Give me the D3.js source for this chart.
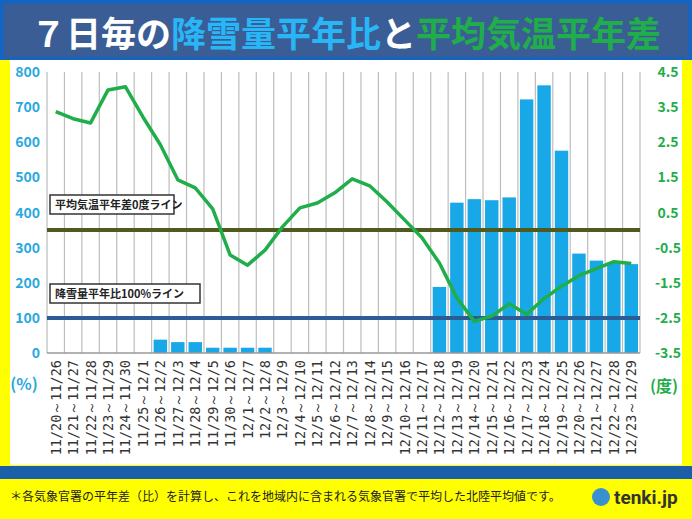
<!DOCTYPE html>
<html><head><meta charset="utf-8">
<script src="https://cdn.jsdelivr.net/npm/d3@7"></script>
<style>body{margin:0;background:#fff;}svg{display:block;font-family:"Noto Sans CJK JP","Noto Sans",sans-serif;}</style>
</head><body>
<script>
const ends = ["11/26","11/27","11/28","11/29","11/30","12/1","12/2","12/3","12/4","12/5","12/6","12/7","12/8","12/9","12/10","12/11","12/12","12/13","12/14","12/15","12/16","12/17","12/18","12/19","12/20","12/21","12/22","12/23","12/24","12/25","12/26","12/27","12/28","12/29"];
const starts = ["11/20","11/21","11/22","11/23","11/24","11/25","11/26","11/27","11/28","11/29","11/30","12/1","12/2","12/3","12/4","12/5","12/6","12/7","12/8","12/9","12/10","12/11","12/12","12/13","12/14","12/15","12/16","12/17","12/18","12/19","12/20","12/21","12/22","12/23"];
const snowRatio = [0,0,0,0,0,0,38,31,31,15,15,15,15,0,0,0,0,0,0,0,0,0,188,428,438,435,443,722,762,576,283,263,257,253];
const tempDiff = [3.37,3.17,3.05,3.99,4.08,3.22,2.43,1.43,1.2,0.6,-0.71,-1.0,-0.57,0.09,0.63,0.77,1.06,1.46,1.26,0.8,0.29,-0.22,-0.94,-1.93,-2.6,-2.45,-2.1,-2.4,-1.95,-1.6,-1.3,-1.1,-0.9,-0.95];
const leftTicks = [0,100,200,300,400,500,600,700,800];
const rightTicks = [-3.5,-2.5,-1.5,-0.5,0.5,1.5,2.5,3.5,4.5];

const W = 692, H = 519;
const m = {l:47, r:640, t:72, b:353};
const svg = d3.select("body").append("svg").attr("width", W).attr("height", H);

svg.append("rect").attr("width", W).attr("height", H).attr("fill", "#ffff00");
svg.append("rect").attr("x", 0).attr("y", 0).attr("width", W).attr("height", 60).attr("fill", "#1565c0");
svg.append("rect").attr("x", 4).attr("y", 4).attr("width", W - 8).attr("height", 53).attr("fill", "#3a5d96");
svg.append("rect").attr("x", 10).attr("y", 60).attr("width", 672).attr("height", 405).attr("fill", "#fff");
svg.append("rect").attr("x", 0).attr("y", 466).attr("width", W).attr("height", 13).attr("fill", "#1a5fa8");

const title = svg.append("text").attr("x", W / 2).attr("y", 47).attr("text-anchor", "middle")
  .attr("font-size", 35).attr("font-weight", "bold");
title.append("tspan").attr("fill", "#fff").text("７日毎の");
title.append("tspan").attr("fill", "#29b6f6").text("降雪量平年比");
title.append("tspan").attr("fill", "#fff").text("と");
title.append("tspan").attr("fill", "#1fae4a").text("平均気温平年差");

const xs = d3.scaleBand().domain(d3.range(ends.length)).range([m.l, m.r]);
const y = d3.scaleLinear().domain([0, 800]).range([m.b, m.t]);
const y2 = d3.scaleLinear().domain([-3.5, 4.5]).range([m.b, m.t]);

// vertical grid
svg.append("g").selectAll("line").data(d3.range(ends.length + 1)).join("line")
  .attr("x1", i => m.l + i * xs.step()).attr("x2", i => m.l + i * xs.step())
  .attr("y1", m.t).attr("y2", m.b).attr("stroke", "#bdbdbd").attr("stroke-width", 1.2);

svg.append("g").selectAll("rect").data(snowRatio).join("rect")
  .attr("x", (d, i) => xs(i) + 2).attr("width", xs.bandwidth() - 4)
  .attr("y", d => y(d)).attr("height", d => m.b - y(d)).attr("fill", "#18a8e8");

svg.append("line").attr("x1", m.l).attr("x2", m.r).attr("y1", m.b).attr("y2", m.b).attr("stroke", "#999").attr("stroke-width", 1.5);

// reference lines
svg.append("line").attr("x1", m.l).attr("x2", m.r).attr("y1", y2(0)).attr("y2", y2(0)).attr("stroke", "#4f5a1e").attr("stroke-width", 4);
svg.append("line").attr("x1", m.l).attr("x2", m.r).attr("y1", y(100)).attr("y2", y(100)).attr("stroke", "#2c5c96").attr("stroke-width", 4);

function label(txt, yy, w) {
  svg.append("rect").attr("x", 50).attr("y", yy - 10).attr("width", w).attr("height", 19).attr("fill", "#fff").attr("stroke", "#333").attr("stroke-width", 1.5);
  svg.append("text").attr("x", 55).attr("y", yy + 4).attr("font-size", 11).attr("font-weight", "bold").attr("fill", "#222").text(txt);
}
label("平均気温平年差0度ライン", 205, 124);
label("降雪量平年比100%ライン", 294, 150);

svg.append("path").datum(tempDiff)
  .attr("d", d3.line().x((d, i) => xs(i) + xs.bandwidth() / 2).y(d => y2(d)))
  .attr("fill", "none").attr("stroke", "#1fae4a").attr("stroke-width", 3.5).attr("stroke-linejoin", "round");

// axes labels
svg.append("g").selectAll("text").data(leftTicks).join("text")
  .attr("x", 40).attr("y", d => y(d) + 5).attr("text-anchor", "end")
  .attr("font-size", 14).attr("font-weight", "bold").attr("fill", "#29a8e0").text(d => d);
svg.append("g").selectAll("text").data(rightTicks).join("text")
  .attr("x", 668).attr("y", d => y2(d) + 5).attr("text-anchor", "middle")
  .attr("font-size", 14).attr("font-weight", "bold").attr("fill", "#1fae4a").text(d => d);
svg.append("text").attr("x", 24).attr("y", 390).attr("text-anchor", "middle").attr("font-size", 16).attr("font-weight", "bold").attr("fill", "#29a8e0").text("(%)");
svg.append("text").attr("x", 664).attr("y", 392).attr("text-anchor", "middle").attr("font-size", 16).attr("font-weight", "bold").attr("fill", "#1fae4a").text("(度)");

svg.append("g").selectAll("text").data(ends).join("text")
  .attr("transform", (d, i) => `translate(${xs(i) + xs.bandwidth() / 2 + 5},360) rotate(-90)`)
  .attr("text-anchor", "end").attr("font-size", 13.5).attr("fill", "#333")
  .attr("font-family", "'DejaVu Sans Mono',monospace")
  .text((d, i) => starts[i] + "～" + d);

svg.append("text").attr("x", 10).attr("y", 501).attr("font-size", 12).attr("fill", "#222")
  .text("＊各気象官署の平年差（比）を計算し、これを地域内に含まれる気象官署で平均した北陸平均値です。");
svg.append("circle").attr("cx", 601).attr("cy", 497).attr("r", 9).attr("fill", "#3a8fd0");
svg.append("text").attr("x", 614).attr("y", 504).attr("font-size", 19).attr("font-weight", "bold").attr("fill", "#333")
  .attr("font-family", "Roboto, sans-serif").text("tenki.jp");
</script>
</body></html>
